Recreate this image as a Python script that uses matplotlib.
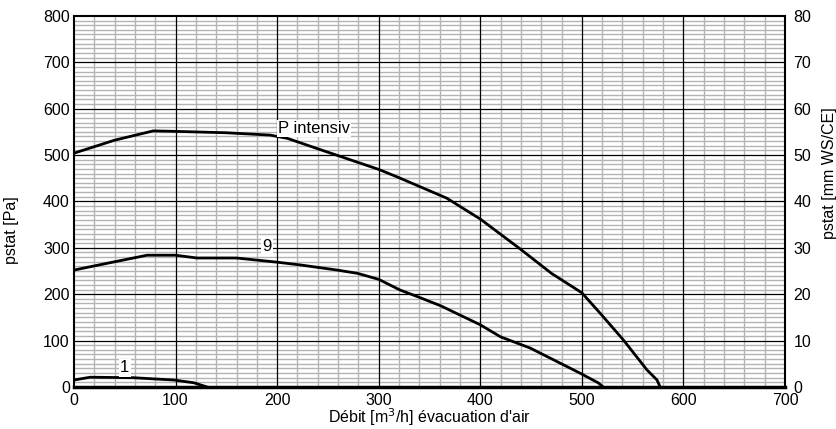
import numpy as np
import matplotlib.pyplot as plt

plt.rcParams['font.family'] = ['Liberation Sans', 'DejaVu Sans']

# Courbes (débit m3/h, pression Pa)
x_int = [0, 40, 78, 100, 150, 193, 210, 242, 300, 318, 367, 400, 439, 470, 500, 518, 541, 564, 574, 577]
p_int = [504, 532, 552, 551, 548, 543, 536, 512, 469, 453, 407, 362, 298, 245, 203, 159, 101, 37, 15, 0]

x_9 = [0, 38, 72, 100, 121, 160, 200, 223, 259, 279, 300, 321, 339, 361, 400, 420, 449, 498, 516, 521]
p_9 = [252, 269, 284, 284, 278, 278, 269, 263, 252, 245, 232, 209, 194, 175, 134, 108, 84, 30, 9, 0]

x_1 = [0, 16, 58, 98, 118, 131]
p_1 = [15, 21, 20, 15, 9, 0]

fig = plt.figure(figsize=(8.36, 4.29), dpi=100)
ax = fig.add_axes([0.0885, 0.098, 0.8505, 0.865])

ax.plot(x_int, p_int, color='black', lw=2, zorder=3)
ax.plot(x_9, p_9, color='black', lw=2, zorder=3)
ax.plot(x_1, p_1, color='black', lw=2, zorder=3)

ax.set_xlim(0, 700)
ax.set_ylim(0, 800)
ax.set_xticks(np.arange(0, 701, 100))
ax.set_yticks(np.arange(0, 801, 100))

# grille fine grise puis grille principale noire par-dessus
for v in range(0, 701, 20):
    if v % 100:
        ax.axvline(v, color='#b4b4b4', lw=1.0, zorder=1)
for v in range(0, 801, 10):
    if v % 100:
        ax.axhline(v, color='#b4b4b4', lw=1.0, zorder=1)
for v in range(100, 700, 100):
    ax.axvline(v, color='black', lw=0.9, zorder=2)
for v in range(100, 800, 100):
    ax.axhline(v, color='black', lw=0.9, zorder=2)

ax.tick_params(which='both', length=0, labelsize=11.5, pad=3)
ax.tick_params(axis='x', pad=4)
for s in ax.spines.values():
    s.set_linewidth(1.5)
    s.set_zorder(4)
ax.spines['bottom'].set_linewidth(2.5)

fig.text(0.014, 0.464, 'pstat [Pa]', fontsize=11.5, rotation=90,
         ha='center', va='center')
fig.text(0.992, 0.597, 'pstat [mm WS/CE]', fontsize=11.5, rotation=90,
         ha='center', va='center')
fig.text(0.514, 0.027, "Débit [m$^3$/h] évacuation d'air", fontsize=11.5,
         ha='center', va='center')

ax2 = ax.twinx()
ax2.set_ylim(0, 80)
ax2.set_yticks(np.arange(0, 81, 10))
ax2.tick_params(length=0, labelsize=11.5, pad=6)
for s in ax2.spines.values():
    s.set_visible(False)

box = dict(facecolor='white', edgecolor='none', pad=1)
ax.text(201, 557, 'P intensiv', fontsize=12, va='center', ha='left', bbox=box, zorder=5)
ax.text(190, 302, '9', fontsize=12, va='center', ha='center', bbox=box, zorder=5)
ax.text(50, 41, '1', fontsize=12, va='center', ha='center', bbox=box, zorder=5)

fig.savefig('out.png', dpi=100)
